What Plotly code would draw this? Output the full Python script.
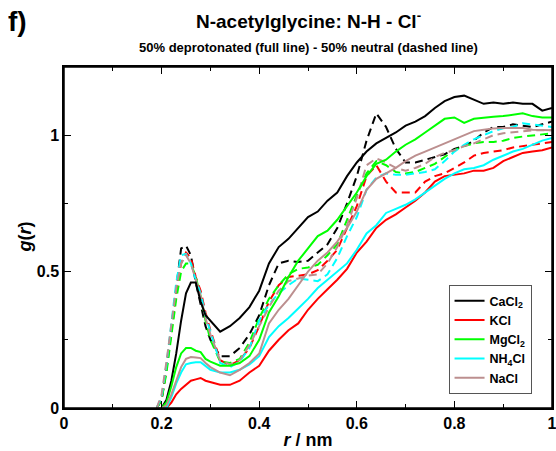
import plotly.graph_objects as go

r = [0.19, 0.20, 0.21, 0.22, 0.23, 0.24, 0.25, 0.26, 0.27, 0.28, 0.29, 0.30, 0.32, 0.34, 0.36,
     0.38, 0.40, 0.42, 0.44, 0.46, 0.48, 0.50, 0.52, 0.54, 0.56, 0.58, 0.60, 0.62, 0.64, 0.66, 0.68,
     0.70, 0.72, 0.74, 0.76, 0.78, 0.80, 0.82, 0.84, 0.86, 0.88, 0.90, 0.92, 0.94, 0.96, 0.98, 1.00]

cacl2_full = [0, 0, 0.03, 0.10, 0.20, 0.32, 0.42, 0.46, 0.46, 0.39, 0.34, 0.32, 0.28, 0.30, 0.33,
              0.37, 0.43, 0.53, 0.59, 0.62, 0.66, 0.70, 0.72, 0.76, 0.79, 0.85, 0.90, 0.94, 0.97, 0.99, 1.01,
              1.035, 1.05, 1.07, 1.10, 1.125, 1.14, 1.145, 1.13, 1.115, 1.12, 1.115, 1.12, 1.115, 1.115, 1.09, 1.10]
cacl2_dash = [0, 0.03, 0.15, 0.30, 0.45, 0.585, 0.595, 0.56, 0.46, 0.38, 0.30, 0.25, 0.19, 0.19, 0.22,
              0.27, 0.34, 0.45, 0.53, 0.54, 0.535, 0.54, 0.57, 0.60, 0.66, 0.75, 0.85, 0.98, 1.08, 1.03, 0.95,
              0.90, 0.90, 0.91, 0.92, 0.93, 0.95, 0.96, 0.98, 1.01, 1.03, 1.03, 1.04, 1.035, 1.03, 1.04, 1.05]

kcl_full = [0, 0, 0.0, 0.02, 0.05, 0.07, 0.085, 0.10, 0.105, 0.11, 0.10, 0.095, 0.085, 0.085, 0.10,
            0.13, 0.155, 0.21, 0.25, 0.285, 0.31, 0.36, 0.40, 0.435, 0.47, 0.51, 0.57, 0.61, 0.66, 0.69, 0.71,
            0.735, 0.76, 0.79, 0.83, 0.85, 0.855, 0.86, 0.87, 0.87, 0.88, 0.905, 0.92, 0.935, 0.94, 0.945, 0.955]
kcl_dash = [0, 0.03, 0.14, 0.28, 0.42, 0.53, 0.57, 0.55, 0.48, 0.43, 0.35, 0.285, 0.175, 0.157, 0.175,
            0.22, 0.30, 0.39, 0.45, 0.48, 0.485, 0.49, 0.505, 0.54, 0.58, 0.66, 0.74, 0.85, 0.89, 0.83, 0.79,
            0.79, 0.79, 0.83, 0.85, 0.86, 0.88, 0.90, 0.925, 0.935, 0.94, 0.945, 0.955, 0.96, 0.965, 0.97, 0.975]

mgcl2_full = [0, 0, 0.02, 0.08, 0.15, 0.20, 0.22, 0.22, 0.21, 0.205, 0.18, 0.17, 0.155, 0.155, 0.165,
              0.19, 0.25, 0.35, 0.41, 0.48, 0.54, 0.585, 0.63, 0.65, 0.69, 0.74, 0.79, 0.85, 0.895, 0.91, 0.94,
              0.965, 0.985, 1.01, 1.035, 1.06, 1.065, 1.045, 1.06, 1.065, 1.068, 1.07, 1.075, 1.08, 1.07, 1.065, 1.065]
mgcl2_dash = [0, 0.03, 0.13, 0.27, 0.40, 0.50, 0.53, 0.53, 0.48, 0.41, 0.32, 0.25, 0.17, 0.165, 0.18,
              0.24, 0.33, 0.40, 0.45, 0.49, 0.51, 0.515, 0.525, 0.56, 0.60, 0.69, 0.78, 0.86, 0.905, 0.89, 0.865,
              0.86, 0.865, 0.88, 0.895, 0.92, 0.945, 0.96, 0.97, 0.975, 0.975, 0.98, 0.99, 0.995, 1.0, 1.003, 1.007]

nh4cl_full = [0, 0, 0.0, 0.04, 0.09, 0.13, 0.16, 0.165, 0.168, 0.168, 0.155, 0.14, 0.13, 0.13, 0.14,
              0.16, 0.19, 0.26, 0.30, 0.33, 0.365, 0.40, 0.44, 0.47, 0.50, 0.53, 0.58, 0.64, 0.67, 0.715, 0.73,
              0.745, 0.765, 0.79, 0.815, 0.84, 0.86, 0.875, 0.88, 0.89, 0.91, 0.925, 0.94, 0.95, 0.965, 0.98, 0.99]
nh4cl_dash = [0, 0.04, 0.16, 0.31, 0.46, 0.56, 0.565, 0.53, 0.47, 0.42, 0.34, 0.28, 0.165, 0.15, 0.17,
              0.22, 0.32, 0.38, 0.42, 0.45, 0.475, 0.47, 0.465, 0.49, 0.55, 0.63, 0.70, 0.80, 0.845, 0.86, 0.855,
              0.855, 0.86, 0.865, 0.875, 0.905, 0.94, 0.965, 0.985, 1.0, 1.015, 1.025, 1.03, 1.044, 1.04, 1.035, 1.03]

nacl_full = [0, 0, 0.01, 0.05, 0.10, 0.15, 0.18, 0.187, 0.185, 0.183, 0.165, 0.15, 0.13, 0.12, 0.14,
             0.165, 0.20, 0.31, 0.36, 0.40, 0.45, 0.50, 0.54, 0.57, 0.61, 0.66, 0.72, 0.80, 0.84, 0.86, 0.88,
             0.905, 0.925, 0.94, 0.955, 0.97, 0.985, 1.0, 1.015, 1.02, 1.025, 1.026, 1.026, 1.026, 1.02, 1.018, 1.018]
nacl_dash = [0, 0.05, 0.17, 0.31, 0.44, 0.53, 0.56, 0.53, 0.47, 0.41, 0.33, 0.27, 0.175, 0.16, 0.175,
             0.23, 0.30, 0.37, 0.43, 0.465, 0.475, 0.485, 0.49, 0.53, 0.59, 0.67, 0.77, 0.89, 0.915, 0.90, 0.88,
             0.87, 0.88, 0.895, 0.92, 0.935, 0.945, 0.96, 0.97, 0.985, 1.0, 1.007, 1.01, 1.015, 1.018, 1.018, 1.018]

salts = ["CaCl<sub>2</sub>", "KCl", "MgCl<sub>2</sub>", "NH<sub>4</sub>Cl", "NaCl"]
colors = ["#000000", "#ff0000", "#00ff00", "#00ffff", "#bc8f8f"]
full_sets = [cacl2_full, kcl_full, mgcl2_full, nh4cl_full, nacl_full]
dash_sets = [cacl2_dash, kcl_dash, mgcl2_dash, nh4cl_dash, nacl_dash]

fig = go.Figure()
for name, c, yf, yd in zip(salts, colors, full_sets, dash_sets):
    fig.add_trace(go.Scatter(x=r, y=yd, mode="lines", line=dict(color=c, width=2, dash="8px,5px"),
                             showlegend=False, hoverinfo="skip"))
for name, c, yf, yd in zip(salts, colors, full_sets, dash_sets):
    fig.add_trace(go.Scatter(x=r, y=yf, mode="lines", name=name, line=dict(color=c, width=2)))

font_family = "Liberation Sans, Arial, sans-serif"
axis_common = dict(showline=True, linecolor="black", linewidth=1.5, mirror="allticks",
                   ticks="inside", ticklen=7, tickwidth=1.2, tickcolor="black",
                   showgrid=False, zeroline=False, automargin=False, ticklabeloverflow="allow",
                   tickfont=dict(family=font_family, size=16, color="black", weight="bold"))

fig.update_xaxes(range=[0, 1], dtick=0.2, tick0=0,
                 minor=dict(ticks="inside", ticklen=4, dtick=0.1, tickcolor="black", tickwidth=1.2),
                 title=dict(text="<i>r</i> / nm", font=dict(family=font_family, size=18, color="black", weight="bold"),
                            standoff=2),
                 **axis_common)
fig.update_yaxes(range=[0, 1.25], dtick=0.5, tick0=0,
                 minor=dict(ticks="inside", ticklen=4, dtick=0.25, tickcolor="black", tickwidth=1.2),
                 **axis_common)

fig.update_layout(
    width=556, height=451,
    margin=dict(l=64, r=4, t=67, b=43),
    plot_bgcolor="white", paper_bgcolor="white",
    font=dict(family=font_family, color="black"),
    showlegend=True,
    legend=dict(x=0.788, y=0.36, xanchor="left", yanchor="top",
                bordercolor="#555555", borderwidth=1, bgcolor="white",
                font=dict(family=font_family, size=12.5, color="black", weight="bold"),
                tracegroupgap=0, itemwidth=30),
    shapes=[dict(type="rect", xref="paper", yref="paper", x0=0, x1=1, y0=0, y1=1,
                 line=dict(color="black", width=1.5), layer="above")],
    annotations=[
        dict(text="N-acetylglycine: N-H - Cl<sup>-</sup>", xref="paper", yref="paper",
             x=0.5, y=1, yshift=47, xanchor="center", yanchor="middle", showarrow=False,
             font=dict(family=font_family, size=19, color="black", weight="bold")),
        dict(text="50% deprotonated (full line) - 50% neutral (dashed line)", xref="paper", yref="paper",
             x=0.5, y=1, yshift=20, xanchor="center", yanchor="middle", showarrow=False,
             font=dict(family=font_family, size=13, color="black", weight="bold")),
        dict(text="f)", xref="paper", yref="paper", x=0, xshift=-58, y=1, yshift=46,
             xanchor="left", yanchor="middle", showarrow=False,
             font=dict(family=font_family, size=28, color="black", weight="bold")),
        dict(text="<i>g</i>(<i>r</i>)", xref="paper", yref="paper", x=0, xshift=-40, y=0.5,
             xanchor="center", yanchor="middle", showarrow=False, textangle=-90,
             font=dict(family=font_family, size=18, color="black", weight="bold")),
    ],
)

fig.write_html("out.html")
